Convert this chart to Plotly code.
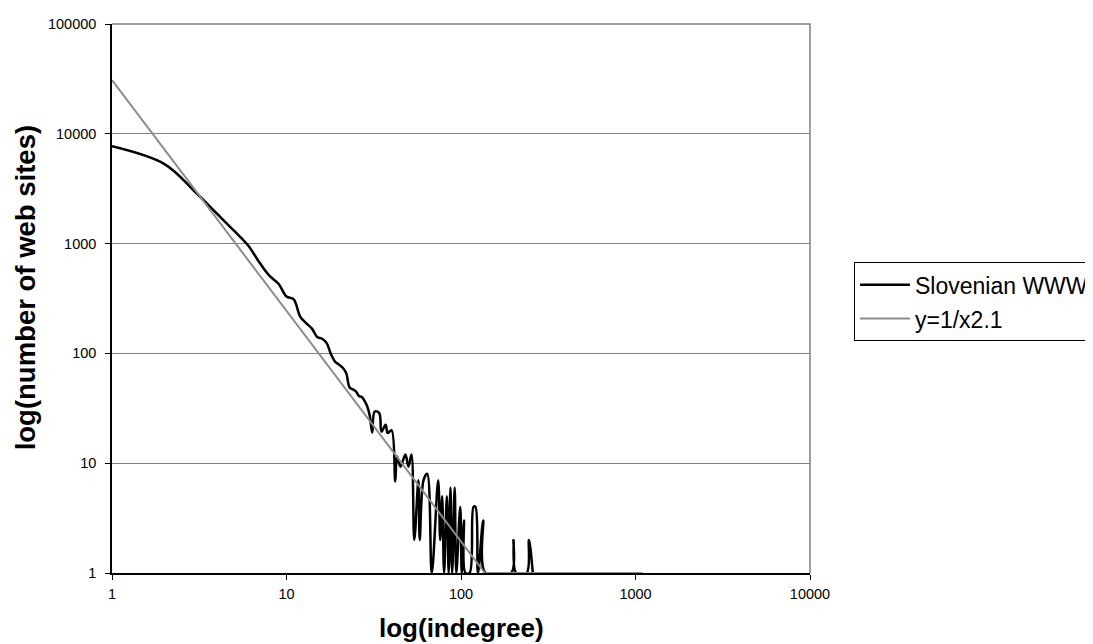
import plotly.graph_objects as go

# ---- data ----
indegree = [1, 2, 3, 4, 5, 6, 7, 8, 9, 10, 11, 12, 13, 14, 15, 16, 17, 18, 19, 20,
            21, 22, 23, 24, 25, 26, 27, 28, 29, 30, 31, 32, 34, 35, 37, 38, 40, 42, 43, 45,
            48, 50, 52, 54, 57, 58, 61, 64, 68, 74, 76, 78, 80, 83, 85, 87, 89, 92, 94, 99,
            101, 104, 106, 112, 118, 121, 125, 134, 138, 194, 200, 207, 238, 245, 258]
sites = [7700, 5300, 2950, 1870, 1310, 970, 673, 508, 431, 330, 310, 215, 188, 168, 141, 136, 124, 98, 84, 79,
         74, 66, 49, 47, 45, 41, 40, 37, 33, 27, 19, 29.5, 28.6, 19.4, 22.4, 18.8, 20, 6.8, 11.5, 9.3,
         12, 9.3, 12, 2, 7, 2, 7, 8, 1, 7, 2, 5, 1, 5, 1, 6, 1, 6, 1, 4,
         1, 3, 1, 1, 4, 4, 1, 3, 1, 1, 2, 1, 1, 2, 1]

fit_indegree = [1, 137, 1100]
fit_sites = [30800, 1, 1]

series_names = ["Slovenian WWW", "y=1/x2.1"]

x_tick_vals = [1, 10, 100, 1000, 10000]
x_tick_text = ["1", "10", "100", "1000", "10000"]
y_tick_vals = [1, 10, 100, 1000, 10000, 100000]
y_tick_text = ["1", "10", "100", "1000", "10000", "100000"]

FONT = "Liberation Sans, Arial, sans-serif"

fig = go.Figure()
fig.add_trace(go.Scatter(
    x=indegree, y=sites, mode="lines", name=series_names[0],
    line=dict(color="#000000", width=2.5, shape="spline", smoothing=1.0),
    legendgroup="a",
))
fig.add_trace(go.Scatter(
    x=fit_indegree, y=fit_sites, mode="lines", name=series_names[1],
    line=dict(color="#8c8c8c", width=2),
    legendgroup="b",
))

fig.update_layout(
    width=1085, height=636,
    margin=dict(l=104, r=283, t=16, b=71, autoexpand=False),
    paper_bgcolor="white", plot_bgcolor="white",
    font=dict(family=FONT, color="#000000", size=14),
    showlegend=True,
    legend=dict(
        x=1.063, y=0.566, xanchor="left", yanchor="top",
        font=dict(family=FONT, size=23, color="#000000"),
        bordercolor="#000000", borderwidth=1, bgcolor="white",
        itemwidth=50, tracegroupgap=1, traceorder="grouped",
    ),
    xaxis=dict(
        type="log", range=[0, 4],
        tickvals=x_tick_vals, ticktext=x_tick_text,
        showgrid=False, zeroline=False,
        showline=True, linecolor="#000000", linewidth=1.5,
        ticks="outside", ticklen=5, tickcolor="#000000", tickwidth=1,
        tickfont=dict(family=FONT, size=14.5, color="#000000"),
        ticklabelstandoff=2,
        layer="below traces",
    ),
    yaxis=dict(
        type="log", range=[0, 5],
        tickvals=y_tick_vals, ticktext=y_tick_text,
        showgrid=True, gridcolor="#808080", gridwidth=1,
        zeroline=False,
        showline=True, linecolor="#000000", linewidth=1.5,
        ticks="outside", ticklen=5, tickcolor="#000000", tickwidth=1,
        tickfont=dict(family=FONT, size=14.5, color="#000000"),
        ticklabelstandoff=6,
        layer="below traces",
    ),
    shapes=[dict(type="path", xref="paper", yref="paper",
                 path="M0,1 L1,1 L1,0", line=dict(color="#808080", width=1.5),
                 layer="below")],
    annotations=[
        dict(text="<b>log(indegree)</b>", xref="paper", yref="paper",
             x=0.5, y=-0.1, xanchor="center", yanchor="middle",
             showarrow=False, font=dict(family=FONT, size=26, color="#000000")),
        dict(text="<b>log(number of web sites)</b>", xref="paper", yref="paper",
             x=-0.1246, y=0.5186, xanchor="center", yanchor="middle", textangle=-90,
             showarrow=False, font=dict(family=FONT, size=27.5, color="#000000")),
    ],
)

fig.write_html("out.html")
